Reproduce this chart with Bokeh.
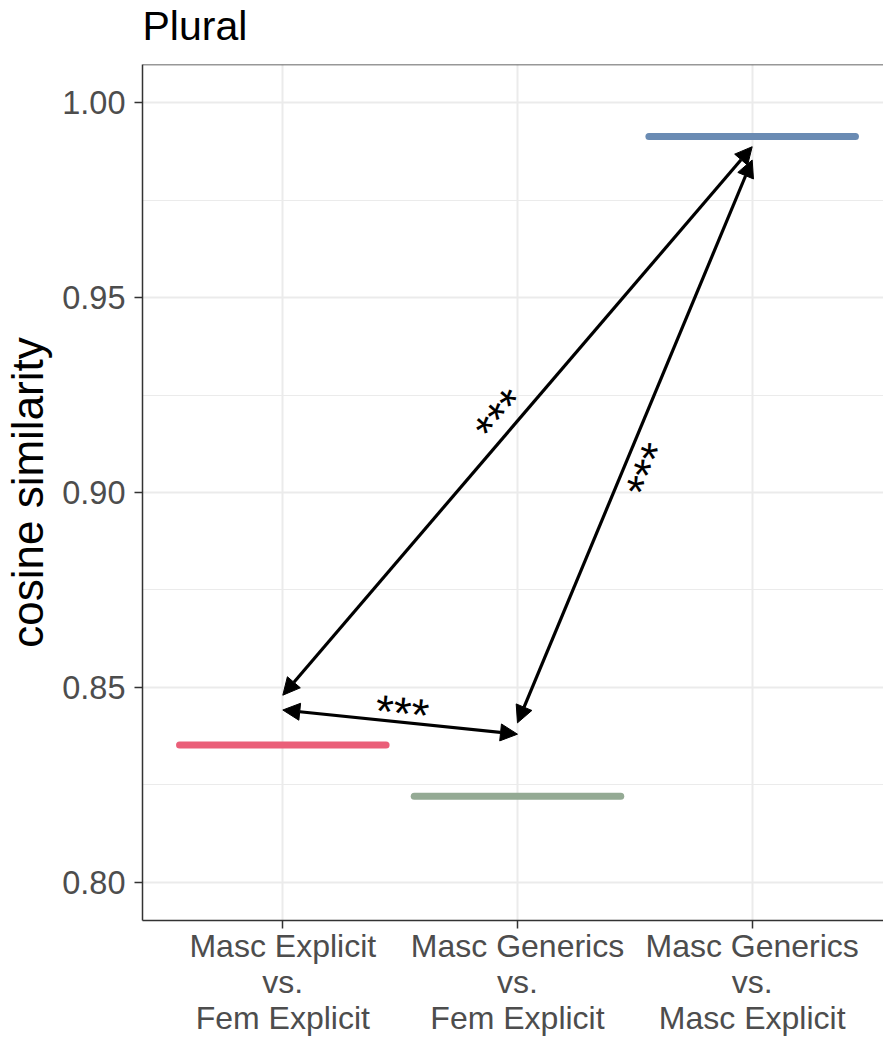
from bokeh.plotting import figure
from bokeh.embed import file_html
from bokeh.resources import INLINE
from bokeh.models import (Range1d, FixedTicker, SingleIntervalTicker, Arrow, NormalHead,
                          Span, ColumnDataSource, PrintfTickFormatter, Title)
from bokeh.core.properties import value
import math

# ---------------- data ----------------
categories = ["Masc Explicit\nvs.\nFem Explicit",
              "Masc Generics\nvs.\nFem Explicit",
              "Masc Generics\nvs.\nMasc Explicit"]
cat_pos = [1, 2, 3]
means = [0.8352, 0.8221, 0.9913]
colors = ["#EA5F79", "#94AA94", "#6A8BB3"]

# significance arrows (from -> to)
arrow_x0 = [1, 2, 1]
arrow_y0 = [0.8480, 0.8409, 0.8442]
arrow_x1 = [3, 3, 2]
arrow_y1 = [0.9887, 0.9853, 0.8380]

sig_labels = ["***", "***", "***"]
sig_x = [1.931, 2.561, 1.508]
sig_y = [0.9196, 0.9056, 0.8434]
sig_angle_deg = [49.0, 67.5, -5.8]

# ---------------- layout ----------------
W, H = 883, 1038
LEFT, BOTTOM = 141, 118
frame_w = W - LEFT
px_per_cat = 235.0
x0 = 1 - 140.5 / px_per_cat
y_lo, y_hi = 0.7902, 1.0098

FONT = "Liberation Sans"
GREY20 = "#333333"
GREY30 = "#4D4D4D"
GRID = "#EBEBEB"

p = figure(width=W, height=H, output_backend="svg", toolbar_location=None,
           x_range=Range1d(x0, x0 + frame_w / px_per_cat),
           y_range=Range1d(y_lo, y_hi),
           title="Plural",
           min_border_left=LEFT, min_border_top=0, min_border_bottom=BOTTOM,
           min_border_right=0)
p.background_fill_color = "white"
p.border_fill_color = "white"
p.outline_line_color = None

# title
p.title.text_font = FONT
p.title.text_font_size = "41px"
p.title.text_font_style = "normal"
p.title.text_color = "black"
p.title.standoff = 0
p.title.offset = 0
# spacer between title and panel
p.add_layout(Title(text=" ", text_font_size="2px", standoff=12), "above")

# y axis
p.yaxis.ticker = SingleIntervalTicker(interval=0.05, num_minor_ticks=2)
p.yaxis.formatter = PrintfTickFormatter(format="%.2f")
p.yaxis.axis_label = "cosine similarity"
p.yaxis.axis_label_text_font = FONT
p.yaxis.axis_label_text_font_size = "44px"
p.yaxis.axis_label_text_font_style = "normal"
p.yaxis.axis_label_text_color = "black"
p.yaxis.axis_label_standoff = 7
p.yaxis.major_label_text_font = FONT
p.yaxis.major_label_text_font_size = "32.5px"
p.yaxis.major_label_text_color = GREY30
p.yaxis.major_label_standoff = 9
p.yaxis.minor_tick_line_color = None

# x axis (multi-line category labels)
p.xaxis.ticker = FixedTicker(ticks=cat_pos)
p.xaxis.major_label_overrides = {c: lab for c, lab in zip(cat_pos, categories)}
p.xaxis.major_label_text_font = FONT
p.xaxis.major_label_text_font_size = "32px"
p.xaxis.major_label_text_color = GREY30
p.xaxis.major_label_text_line_height = 1.0
p.xaxis.major_label_standoff = -1
p.xaxis.minor_tick_line_color = None

for ax in (p.xaxis, p.yaxis):
    ax.axis_line_color = GREY20
    ax.axis_line_width = 1.5
    ax.major_tick_line_color = GREY20
    ax.major_tick_line_width = 1.5
    ax.major_tick_out = 8
    ax.major_tick_in = 0

# grid
p.xgrid.grid_line_color = GRID
p.xgrid.grid_line_width = 2
p.ygrid.grid_line_color = GRID
p.ygrid.grid_line_width = 2
p.ygrid.minor_grid_line_color = GRID
p.ygrid.minor_grid_line_width = 1.2

# top border of panel
p.add_layout(Span(location=y_hi, dimension="width", line_color=GREY20, line_width=1.5))

# mean segments
half = 0.44
seg_src = ColumnDataSource(dict(
    x0=[c - half for c in cat_pos], x1=[c + half for c in cat_pos],
    y=means, color=colors))
p.segment(x0="x0", y0="y", x1="x1", y1="y", color="color", source=seg_src,
          line_width=7, line_cap="round")

# arrows
arr_src = ColumnDataSource(dict(x0=arrow_x0, y0=arrow_y0, x1=arrow_x1, y1=arrow_y1))
p.add_layout(Arrow(source=arr_src, x_start="x0", y_start="y0", x_end="x1", y_end="y1",
                   line_width=3.2, line_color="black",
                   start=NormalHead(size=17, fill_color="black", line_color="black", line_width=1),
                   end=NormalHead(size=17, fill_color="black", line_color="black", line_width=1)))

# significance labels
sig_src = ColumnDataSource(dict(x=sig_x, y=sig_y, text=sig_labels,
                                angle=[math.radians(a) for a in sig_angle_deg]))
p.text(x="x", y="y", text="text", angle="angle", source=sig_src,
       text_font=value(FONT), text_font_size="46px", text_color="black",
       text_align="center", text_baseline="middle")

open("out.html", "w").write(file_html(p, INLINE))
